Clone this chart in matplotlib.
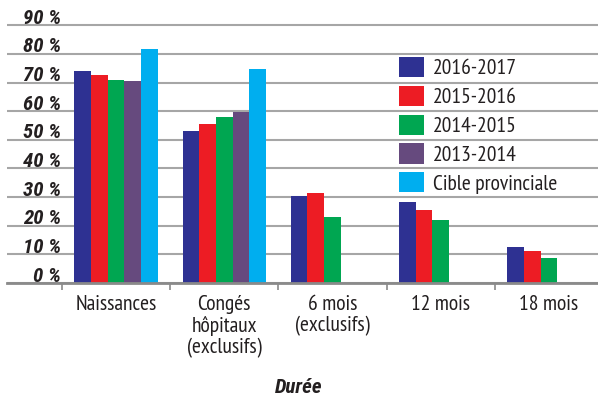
# Allaitement - taux par durée

import numpy as np
import matplotlib.pyplot as plt
import matplotlib.transforms as mtrans

plt.rcParams['font.family'] = ['PT Sans Narrow', 'Roboto Condensed', 'DejaVu Sans']
bold_it = ['Roboto Condensed', 'DejaVu Sans']

# Data
categories = ['Naissances', 'Congés\nhôpitaux\n(exclusifs)', '6 mois\n(exclusifs)', '12 mois', '18 mois']
series = ['2016-2017', '2015-2016', '2014-2015', '2013-2014', 'Cible provinciale']
v_2016_2017 = [74.0, 53.0, 30.4, 28.2, 12.5]
v_2015_2016 = [72.7, 55.7, 31.4, 25.5, 11.1]
v_2014_2015 = [71.0, 58.0, 23.0, 21.9, 8.8]
v_2013_2014 = [70.6, 59.9, np.nan, np.nan, np.nan]
v_cible = [81.9, 74.9, np.nan, np.nan, np.nan]
yticks = [0, 10, 20, 30, 40, 50, 60, 70, 80, 90]
colors = ['#2e3192', '#ed1c24', '#00a651', '#664a7e', '#00aeef']

values = [v_2016_2017, v_2015_2016, v_2014_2015, v_2013_2014, v_cible]

W, H = 598, 400
fig = plt.figure(figsize=(W / 100, H / 100), dpi=100)
ax = fig.add_axes([7 / W, (H - 283) / H, 591 / W, (283 - 22.5) / H])

x = np.arange(len(categories))
w = 0.154
for k, (vals, name, c) in enumerate(zip(values, series, colors)):
    ax.bar(x + (k - 2) * w, vals, width=w, color=c, label=name, zorder=3)

ax.set_xlim(-1.008, 4.454)
ax.set_ylim(0, 91)

# gridlines
ax.set_yticks(yticks)
ax.yaxis.grid(True, color='#a6a6a6', linewidth=1.5, zorder=0)
ax.tick_params(axis='y', length=0, labelleft=False)

# y labels sit just above the lines
off = mtrans.offset_copy(ax.get_yaxis_transform(), fig=fig, x=0, y=1.5, units='dots')
for t in yticks:
    ax.text(0.0914, t, f'{t} %', transform=off, ha='right', va='baseline',
            fontsize=15, fontweight='bold', fontstyle='italic', family=bold_it,
            color='#231f20')

# x axis
ax.set_xticks(x)
ax.set_xticklabels(categories, fontsize=15.5, color='#231f20', linespacing=1.1)
ax.tick_params(axis='x', which='major', length=0, pad=9)
ax.set_xticks(np.arange(-0.5, 4.0, 1.0), minor=True)
ax.tick_params(axis='x', which='minor', length=5, width=1.2, color='#8a8a8a', direction='out')

for s in ['top', 'right', 'left']:
    ax.spines[s].set_visible(False)
ax.spines['bottom'].set_color('#8a8a8a')
ax.spines['bottom'].set_linewidth(2)
ax.spines['bottom'].set_zorder(4)

fig.text(299 / W, 1 - 393 / H, 'Durée', ha='center', va='baseline',
         fontsize=15, fontweight='bold', fontstyle='italic', family=bold_it,
         color='#231f20')

fs = 15.5
px = fs / 0.72
leg = ax.legend(loc='upper left', bbox_to_anchor=(399 / W, 1 - 57 / H),
                bbox_transform=fig.transFigure, frameon=False, fontsize=fs,
                handlelength=25 / px, handleheight=23 / px, handletextpad=9 / px,
                labelspacing=0.34, borderpad=0, borderaxespad=0)
for t in leg.get_texts():
    t.set_color('#231f20')

fig.savefig('out.png', dpi=100)
